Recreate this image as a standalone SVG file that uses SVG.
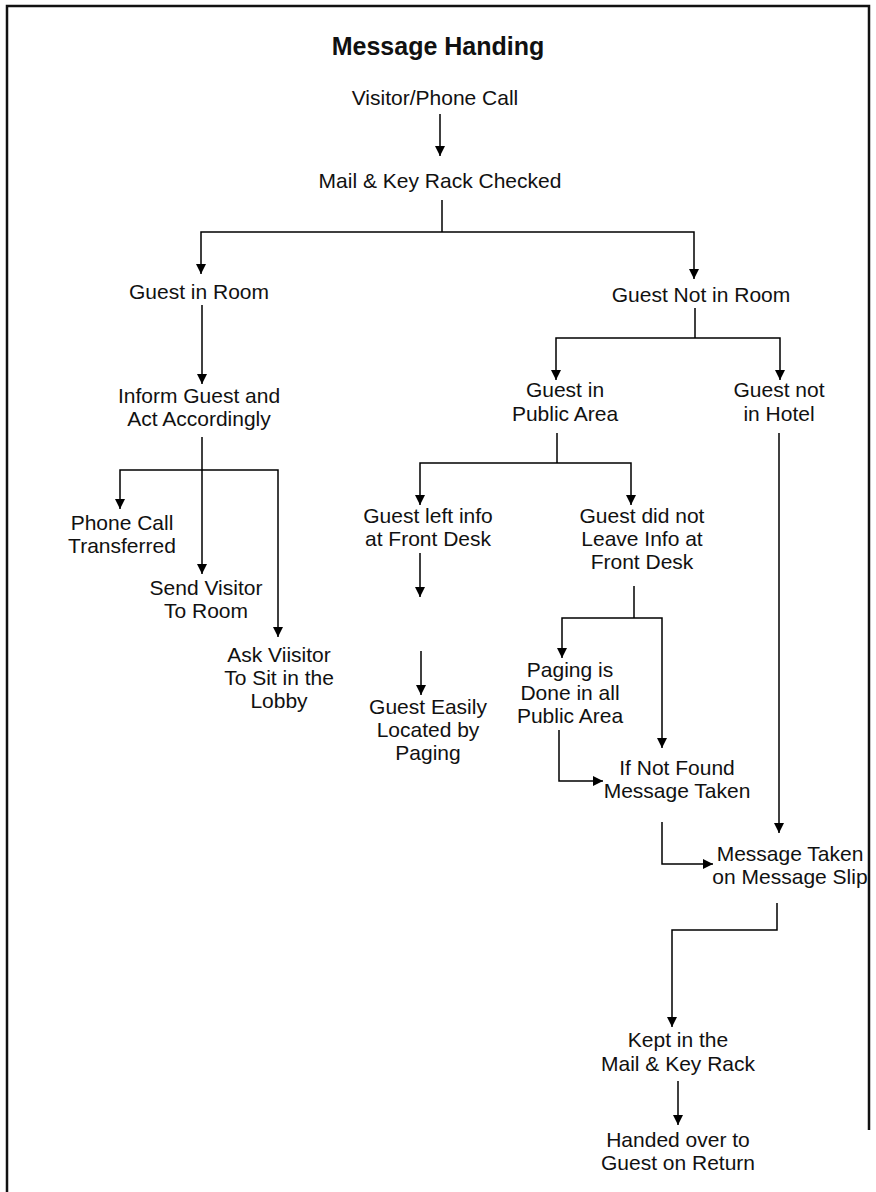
<svg xmlns="http://www.w3.org/2000/svg" width="876" height="1192" viewBox="0 0 876 1192">
  <defs>
    <marker id="arrow" viewBox="0 0 10 10" refX="10" refY="5" markerWidth="10" markerHeight="10" markerUnits="userSpaceOnUse" orient="auto">
      <path d="M0,0 L10,5 L0,10 z" fill="#000"/>
    </marker>
    <style>
      text { font-family: "Liberation Sans", Arial, sans-serif; font-size: 21px; fill: #111; text-anchor: middle; }
      .title { font-size: 25px; font-weight: bold; }
      .frame { fill: none; stroke: #111; stroke-width: 2.5; }
      .link { fill: none; stroke: #000; stroke-width: 1.5; }
      .arr { marker-end: url(#arrow); }
    </style>
  </defs>
  <rect width="876" height="1192" fill="#fff"/>

  <!-- page frame -->
  <path class="frame" d="M7,1192 V6 H869 V1130"/>

  <text class="title" x="438" y="55">Message Handing</text>

  <g id="connectors">
    <line class="link arr" x1="440" y1="114" x2="440" y2="156"/>
    <!-- split: guest in room / not in room -->
    <path class="link" d="M442,200 V232"/>
    <path class="link arr" d="M442,232 H201 V274"/>
    <path class="link arr" d="M442,232 H694 V279"/>
    <!-- guest in room -->
    <line class="link arr" x1="202" y1="305" x2="202" y2="384"/>
    <line class="link arr" x1="202" y1="437" x2="202" y2="574"/>
    <path class="link arr" d="M202,470 H120 V509"/>
    <path class="link arr" d="M202,470 H278 V637"/>
    <!-- guest not in room -->
    <path class="link" d="M695,308 V338"/>
    <path class="link arr" d="M695,338 H556 V380"/>
    <path class="link arr" d="M695,338 H780 V380"/>
    <!-- guest in public area -->
    <path class="link" d="M557,433 V463"/>
    <path class="link arr" d="M557,463 H420 V505"/>
    <path class="link arr" d="M557,463 H631 V505"/>
    <line class="link arr" x1="420" y1="553" x2="420" y2="597"/>
    <line class="link arr" x1="421" y1="651" x2="421" y2="695"/>
    <!-- did not leave info -->
    <path class="link" d="M634,586 V618"/>
    <path class="link arr" d="M634,618 H562 V658"/>
    <path class="link arr" d="M634,618 H662 V748"/>
    <path class="link arr" d="M559,730 V781 H603"/>
    <!-- message slip -->
    <path class="link arr" d="M662,822 V864 H713"/>
    <line class="link arr" x1="779" y1="433" x2="779" y2="833"/>
    <path class="link arr" d="M777,903 V930 H672 V1027"/>
    <line class="link arr" x1="678" y1="1081" x2="678" y2="1125"/>
  </g>

  <g id="n-visitor"><text x="435" y="105">Visitor/Phone Call</text></g>
  <g id="n-rack-checked"><text x="440" y="188">Mail &amp; Key Rack Checked</text></g>
  <g id="n-in-room"><text x="199" y="299">Guest in Room</text></g>
  <g id="n-not-in-room"><text x="701" y="302">Guest Not in Room</text></g>
  <g id="n-inform"><text x="199" y="403">Inform Guest and</text><text x="199" y="426">Act Accordingly</text></g>
  <g id="n-transferred"><text x="122" y="530">Phone Call</text><text x="122" y="553">Transferred</text></g>
  <g id="n-send-visitor"><text x="206" y="595">Send Visitor</text><text x="206" y="618">To Room</text></g>
  <g id="n-ask-visitor"><text x="279" y="662">Ask Viisitor</text><text x="279" y="685">To Sit in the</text><text x="279" y="708">Lobby</text></g>
  <g id="n-public-area"><text x="565" y="397">Guest in</text><text x="565" y="421">Public Area</text></g>
  <g id="n-not-in-hotel"><text x="779" y="397">Guest not</text><text x="779" y="421">in Hotel</text></g>
  <g id="n-left-info"><text x="428" y="523">Guest left info</text><text x="428" y="546">at Front Desk</text></g>
  <g id="n-no-info"><text x="642" y="523">Guest did not</text><text x="642" y="546">Leave Info at</text><text x="642" y="569">Front Desk</text></g>
  <g id="n-located"><text x="428" y="714">Guest Easily</text><text x="428" y="737">Located by</text><text x="428" y="760">Paging</text></g>
  <g id="n-paging"><text x="570" y="677">Paging is</text><text x="570" y="700">Done in all</text><text x="570" y="723">Public Area</text></g>
  <g id="n-not-found"><text x="677" y="775">If Not Found</text><text x="677" y="798">Message Taken</text></g>
  <g id="n-slip"><text x="790" y="861">Message Taken</text><text x="790" y="884">on Message Slip</text></g>
  <g id="n-kept"><text x="678" y="1047">Kept in the</text><text x="678" y="1071">Mail &amp; Key Rack</text></g>
  <g id="n-handed"><text x="678" y="1147">Handed over to</text><text x="678" y="1170">Guest on Return</text></g>
</svg>
